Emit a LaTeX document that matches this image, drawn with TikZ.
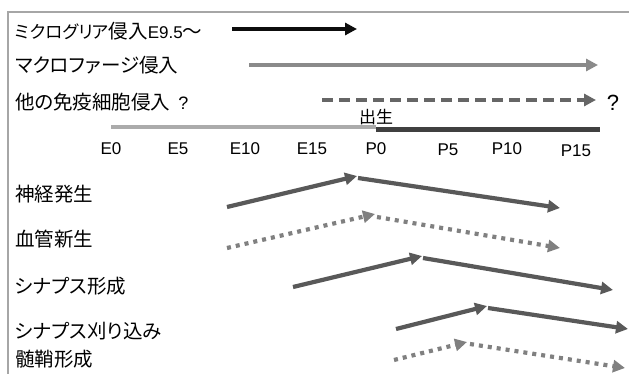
\documentclass[tikz,border=0pt]{standalone}
\usepackage{fontspec}
\setmainfont{Liberation Sans}
\newfontfamily\lat{Liberation Sans}
\newfontfamily\jp[RawFeature=+palt]{Noto Sans CJK JP}
\usetikzlibrary{arrows.meta}
\definecolor{cframe}{HTML}{A6A6A6}
\definecolor{cblack}{HTML}{0D0D0D}
\definecolor{cmac}{HTML}{8A8A8A}
\definecolor{cdash}{HTML}{666666}
\definecolor{csolid}{HTML}{595959}
\definecolor{cdot}{HTML}{808080}
\definecolor{clight}{HTML}{ABABAB}
\definecolor{cdark}{HTML}{404040}
\begin{document}
\begin{tikzpicture}[x=1pt,y=-1pt,
  lbl/.style={anchor=west, inner sep=0pt, font=\jp\fontsize{19.5}{19.5}\selectfont},
  ticklbl/.style={inner sep=0pt, font=\lat\fontsize{17}{17}\selectfont},
  tipA/.style={-{Triangle[length=12pt,width=12pt]}},
  solidarr/.style={tipA, line width=4.2pt, draw=csolid},
  dotarr/.style={tipA, line width=4.2pt, draw=cdot, dash pattern=on 4pt off 5pt}]
\useasboundingbox (0,0) rectangle (629,374);
\fill[white] (0,0) rectangle (629,374);
% frame
\coordinate (fbl) at (8,374);
\coordinate (ftl) at (8,12);
\coordinate (ftr) at (629,12);
\draw[cframe, line width=1.5pt] (fbl) -- (ftl) -- (ftr);
% labels
\node[lbl] (l1) at (15,31) {{\fontsize{17.5}{17.5}\selectfont ミクログリア}侵入{\lat\fontsize{17}{17}\selectfont E9.5}〜};
\node[lbl] (l2) at (15,65) {マクロファージ侵入};
\node[lbl] (l3) at (15,102) {他の免疫細胞侵入\hspace{8pt}{\lat\fontsize{18}{18}\selectfont ?}};
\node[lbl] (l4) at (15,194) {神経発生};
\node[lbl] (l5) at (15,239) {血管新生};
\node[lbl] (l6) at (15,286) {シナプス形成};
\node[lbl] (l7) at (15,331) {シナプス刈り込み};
\node[lbl] (l8) at (15,359) {髄鞘形成};
% immune arrows
\coordinate (a1s) at (232,29);
\coordinate (a1e) at (357,29);
\draw[tipA, line width=4.2pt, draw=cblack] (a1s) -- (a1e);
\coordinate (a2s) at (249,65);
\coordinate (a2e) at (598,65);
\draw[tipA, line width=4.2pt, draw=cmac] (a2s) -- (a2e);
\coordinate (a3s) at (322,100);
\coordinate (a3e) at (596,100);
\draw[tipA, line width=4.2pt, draw=cdash, dash pattern=on 11pt off 6pt] (a3s) -- (a3e);
\node[ticklbl, font=\lat\fontsize{22}{22}\selectfont] (q) at (613,103) {?};
% timeline
\coordinate (t0) at (111,127);
\coordinate (tb) at (376,127);
\coordinate (tb2) at (376,129.5);
\coordinate (t1) at (600,129.5);
\draw[clight, line width=4pt] (t0) -- (tb);
\draw[cdark, line width=4.5pt] (tb2) -- (t1);
\node[inner sep=0pt, font=\jp\fontsize{17}{17}\selectfont] (birth) at (376,117) {出生};
\node[ticklbl] (e0) at (111,149) {E0};
\node[ticklbl] (e5) at (178,149) {E5};
\node[ticklbl] (e10) at (245,149) {E10};
\node[ticklbl] (e15) at (312,149) {E15};
\node[ticklbl] (p0) at (376,149) {P0};
\node[ticklbl] (p5) at (448,150) {P5};
\node[ticklbl] (p10) at (507,149) {P10};
\node[ticklbl] (p15) at (576,151) {P15};
% neurogenesis
\coordinate (n1) at (227,207);
\coordinate (n2) at (357,176);
\coordinate (n3) at (358,178);
\coordinate (n4) at (560,208);
\draw[solidarr] (n1) -- (n2);
\draw[solidarr] (n3) -- (n4);
% angiogenesis
\coordinate (v1) at (227,248);
\coordinate (v2) at (375,214);
\coordinate (v3) at (377,217);
\coordinate (v4) at (560,248);
\draw[dotarr] (v1) -- (v2);
\draw[dotarr] (v3) -- (v4);
% synapse formation
\coordinate (s1) at (293,287);
\coordinate (s2) at (422,256);
\coordinate (s3) at (423,258);
\coordinate (s4) at (613,290);
\draw[solidarr] (s1) -- (s2);
\draw[solidarr] (s3) -- (s4);
% synaptic pruning
\coordinate (p1) at (396,329);
\coordinate (p2) at (487,306);
\coordinate (p3) at (488,308);
\coordinate (p4) at (628,329);
\draw[solidarr] (p1) -- (p2);
\draw[solidarr] (p3) -- (p4);
% myelination
\coordinate (m1) at (394,360);
\coordinate (m2) at (467,342);
\coordinate (m3) at (470,344);
\coordinate (m4) at (625,368);
\draw[dotarr] (m1) -- (m2);
\draw[dotarr] (m3) -- (m4);
\end{tikzpicture}
\end{document}
